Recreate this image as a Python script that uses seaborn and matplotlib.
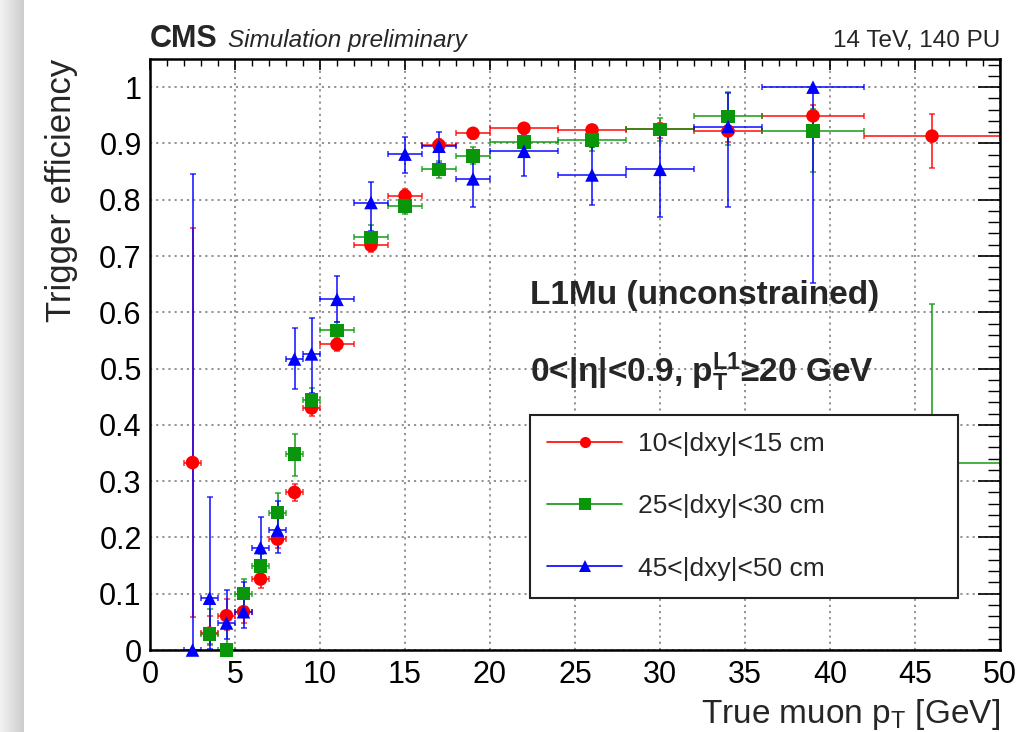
import numpy as np
import pandas as pd
import matplotlib
matplotlib.use("Agg")
import matplotlib.pyplot as plt
from matplotlib.lines import Line2D
from matplotlib.ticker import MultipleLocator
import seaborn as sns

# ---------------- data ----------------
bin_lo = [2, 3, 4, 5, 6, 7, 8, 9, 10, 12, 14, 16, 18, 20, 24, 28, 32, 36, 42]
bin_hi = [3, 4, 5, 6, 7, 8, 9, 10, 12, 14, 16, 18, 20, 24, 28, 32, 36, 42, 50]

series_names = ["10<|dxy|<15 cm", "25<|dxy|<30 cm", "45<|dxy|<50 cm"]

red_eff = [0.333, 0.030, 0.061, 0.068, 0.126, 0.197, 0.280, 0.430, 0.543, 0.719,
           0.807, 0.897, 0.918, 0.927, 0.924, 0.925, 0.922, 0.949, 0.913]
red_lo = [0.275, 0.020, 0.025, 0.020, 0.015, 0.015, 0.015, 0.015, 0.012, 0.012,
          0.012, 0.010, 0.010, 0.007, 0.010, 0.015, 0.020, 0.030, 0.057]
red_hi = [0.417, 0.030, 0.030, 0.025, 0.015, 0.015, 0.015, 0.015, 0.012, 0.012,
          0.012, 0.010, 0.008, 0.007, 0.008, 0.012, 0.020, 0.020, 0.039]

green_eff = [np.nan, 0.028, 0.000, 0.100, 0.149, 0.244, 0.348, 0.444, 0.568, 0.733,
             0.789, 0.854, 0.878, 0.903, 0.906, 0.925, 0.948, 0.922, 0.333]
green_lo = [np.nan, 0.020, 0.000, 0.025, 0.020, 0.030, 0.038, 0.020, 0.015, 0.022,
            0.015, 0.015, 0.015, 0.010, 0.020, 0.020, 0.050, 0.072, 0.200]
green_hi = [np.nan, 0.045, 0.040, 0.026, 0.022, 0.035, 0.036, 0.022, 0.015, 0.022,
            0.015, 0.015, 0.015, 0.010, 0.020, 0.020, 0.044, 0.040, 0.282]

blue_eff = [0.000, 0.092, 0.048, 0.068, 0.182, 0.213, 0.517, 0.526, 0.623, 0.795,
            0.881, 0.895, 0.837, 0.886, 0.844, 0.854, 0.930, 1.000, np.nan]
blue_lo = [0.000, 0.090, 0.028, 0.029, 0.040, 0.041, 0.054, 0.070, 0.040, 0.050,
           0.033, 0.030, 0.050, 0.044, 0.054, 0.085, 0.143, 0.348, np.nan]
blue_hi = [0.845, 0.180, 0.059, 0.053, 0.054, 0.052, 0.055, 0.064, 0.042, 0.037,
           0.030, 0.025, 0.040, 0.030, 0.050, 0.070, 0.060, 0.000, np.nan]

colors = {series_names[0]: "#ff0000", series_names[1]: "#0a960a", series_names[2]: "#0000ff"}
markers = {series_names[0]: "o", series_names[1]: "s", series_names[2]: "^"}

# ---------------- build table ----------------
rows = []
for name, eff, lo, hi in [(series_names[0], red_eff, red_lo, red_hi),
                          (series_names[1], green_eff, green_lo, green_hi),
                          (series_names[2], blue_eff, blue_lo, blue_hi)]:
    for bl, bh, e, l, h in zip(bin_lo, bin_hi, eff, lo, hi):
        if np.isnan(e):
            continue
        rows.append(dict(series=name, pt=0.5 * (bl + bh), blo=bl, bhi=bh, eff=e, elo=l, ehi=h))
df = pd.DataFrame(rows)

# ---------------- style ----------------
sns.set_theme(style="white")
plt.rcParams["font.family"] = ["Liberation Sans", "DejaVu Sans"]
plt.rcParams["mathtext.fontset"] = "custom"
plt.rcParams["mathtext.rm"] = "Liberation Sans"
plt.rcParams["mathtext.it"] = "Liberation Sans:italic"
plt.rcParams["mathtext.bf"] = "Liberation Sans:bold"

fig = plt.figure(figsize=(10.25, 7.32), dpi=100)
ax = fig.add_axes([150 / 1025, 82 / 732, 850 / 1025, 591 / 732])

# left shadow decoration
sh = fig.add_axes([0, 0, 24 / 1025, 1])
grad = np.linspace(0.95, 0.80, 50)[None, :]
sh.imshow(grad, aspect="auto", cmap="gray", vmin=0, vmax=1, extent=[0, 1, 0, 1])
sh.axis("off")

# error bars
for name in series_names:
    d = df[df.series == name]
    ax.errorbar(d.pt, d.eff,
                xerr=[d.pt - d.blo, d.bhi - d.pt],
                yerr=[d.elo, d.ehi],
                fmt="none", ecolor=colors[name], elinewidth=1.4,
                capsize=2.5, capthick=1.2, alpha=0.75, zorder=2)

# markers
sns.scatterplot(data=df, x="pt", y="eff", hue="series", style="series",
                palette=colors, markers=markers, hue_order=series_names,
                style_order=series_names, s=95, linewidth=0, legend=False,
                ax=ax, zorder=3, clip_on=False)

ax.set_xlim(0, 50)
ax.set_ylim(0, 1.05)
ax.xaxis.set_major_locator(MultipleLocator(5))
ax.xaxis.set_minor_locator(MultipleLocator(1))
ax.yaxis.set_major_locator(MultipleLocator(0.1))
ax.yaxis.set_minor_locator(MultipleLocator(0.02))
ax.set_xticks(np.arange(0, 51, 5))
ax.set_xticklabels([str(v) for v in range(0, 51, 5)])
yt = np.round(np.arange(0, 1.01, 0.1), 1)
ax.set_yticks(yt)
ax.set_yticklabels(["0"] + [f"{v:.1f}" for v in yt[1:-1]] + ["1"])

ax.tick_params(axis="both", which="both", direction="in", top=True, right=True,
               labelsize=22, colors="black")
ax.tick_params(axis="x", which="major", length=8, width=1.2, pad=7)
ax.tick_params(axis="x", which="minor", length=5, width=1.0)
ax.tick_params(axis="y", which="major", length=16, width=1.2, pad=6)
ax.tick_params(axis="y", which="minor", length=9, width=1.0)
ax.grid(True, which="major", linestyle=(0, (1.2, 2.2)), color="#8a8a8a", linewidth=1.3)
for s in ax.spines.values():
    s.set_color("black")
    s.set_linewidth(1.8)
    s.set_visible(True)

ax.set_xlabel(r"True muon p$_{\mathrm{T}}$ [GeV]", fontsize=24, loc="right", labelpad=5)
ax.set_ylabel("Trigger efficiency", fontsize=25, loc="top", labelpad=15)

# header texts
ax.text(0.0, 1.021, "CMS", transform=ax.transAxes, fontsize=22, fontweight="bold",
        ha="left", va="baseline")
ax.text(0.092, 1.021, "Simulation preliminary", transform=ax.transAxes, fontsize=17.5,
        style="italic", ha="left", va="baseline")
ax.text(1.0, 1.021, "14 TeV, 140 PU", transform=ax.transAxes, fontsize=17.5,
        ha="right", va="baseline")

ax.text(0.447, 0.599, "L1Mu (unconstrained)", transform=ax.transAxes, fontsize=24,
        fontweight="bold", ha="left", va="center")
ax.text(0.447, 0.4535, r"0<|η|<0.9, $\mathbf{p}_{\mathbf{T}}^{\mathbf{L1}}$≥20 GeV",
        transform=ax.transAxes, fontsize=24, fontweight="bold", ha="left", va="baseline",
        family=["Liberation Sans", "DejaVu Sans"])

# legend
handles = [Line2D([0], [0], color=colors[n], marker=markers[n], markersize=8,
                  linewidth=1.2, markeredgewidth=0) for n in series_names]
leg = ax.legend(handles, series_names, loc="upper left",
                bbox_to_anchor=(0.447, 0.1, 0.503, 0.2976), mode="expand",
                borderaxespad=0, fontsize=19, frameon=True, fancybox=False,
                framealpha=1, edgecolor="#222222", borderpad=0.65,
                labelspacing=1.45, handlelength=2.85, handletextpad=0.6)
leg.get_frame().set_linewidth(1.5)
leg.set_zorder(10)

fig.savefig("out.png", dpi=100)
